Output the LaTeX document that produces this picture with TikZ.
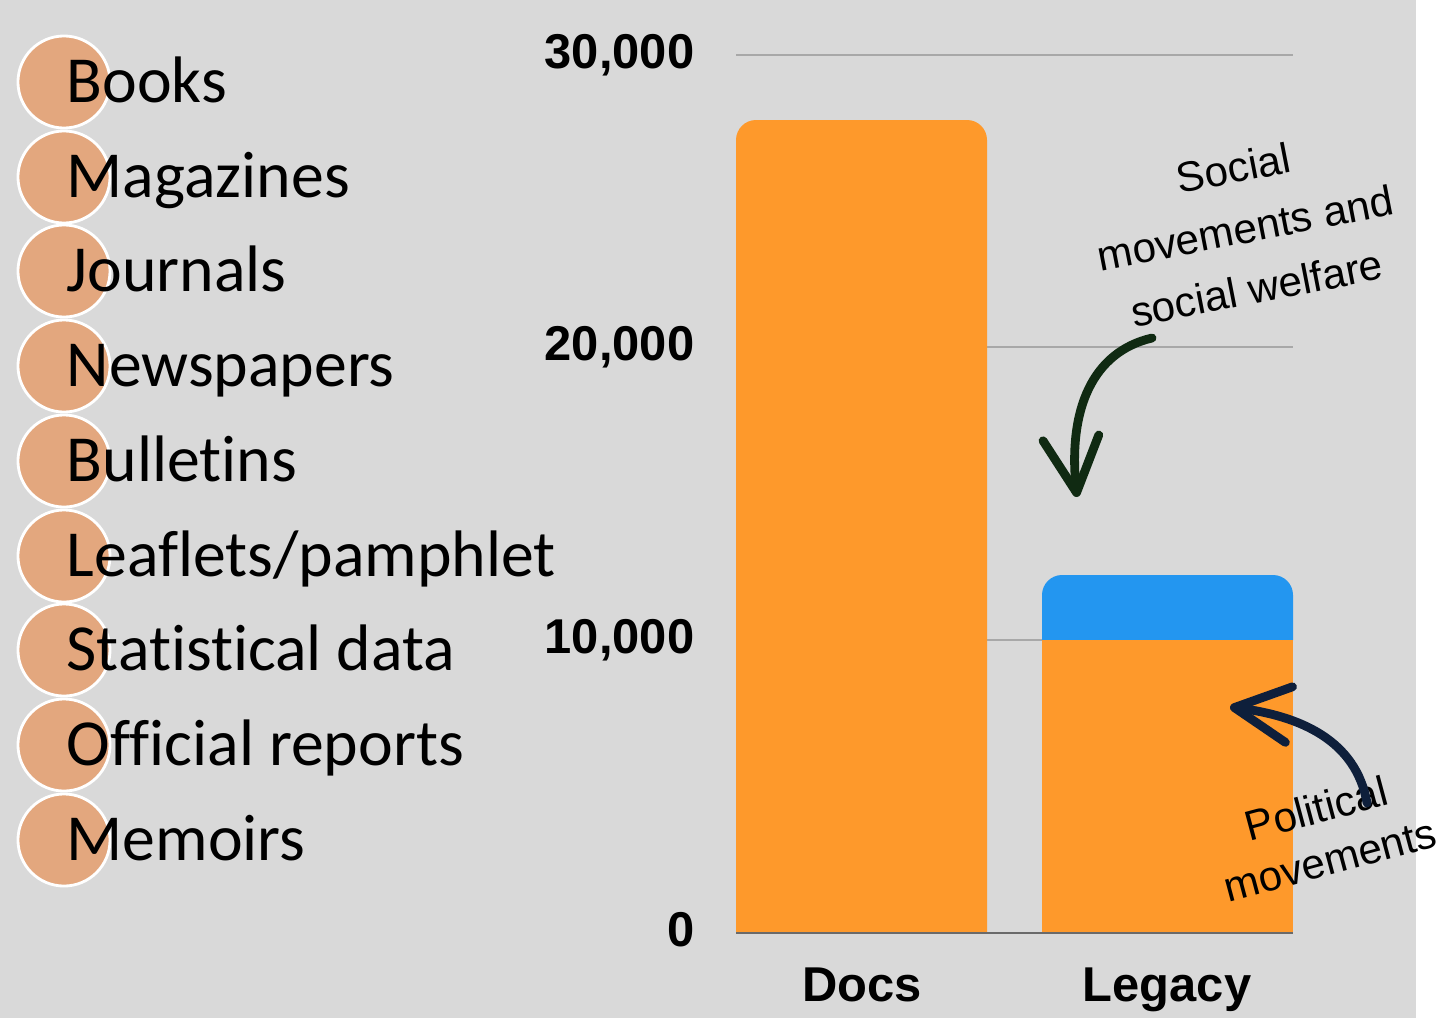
\documentclass[tikz,border=0pt]{standalone}
\usepackage{fontspec}
\setmainfont{Liberation Sans}
\newfontfamily\listfont[Ligatures=NoCommon]{Carlito}
\usetikzlibrary{arrows.meta}

\definecolor{bggray}{HTML}{D9D9D9}
\definecolor{bubblefill}{HTML}{E3A77E}
\definecolor{barorange}{HTML}{FE992B}
\definecolor{barblue}{HTML}{2396F0}
\definecolor{gridgray}{HTML}{A8A8A8}
\definecolor{axisgray}{HTML}{6A6A6A}
\definecolor{arrowgreen}{HTML}{102A12}
\definecolor{arrownavy}{HTML}{0E1F3B}

\begin{document}
\begin{tikzpicture}[x=0.01cm,y=-0.01cm,
  bubble/.style={circle,fill=bubblefill,draw=white,line width=0.8pt,minimum size=0.92cm,inner sep=0pt},
  item/.style={anchor=base west,inner sep=0pt,font=\listfont\fontsize{18.7}{22}\selectfont},
  ticklabel/.style={anchor=base east,inner sep=0pt,font=\bfseries\fontsize{13.9}{16}\selectfont},
  barlabel/.style={anchor=base,inner sep=0pt,font=\bfseries\fontsize{13.9}{16}\selectfont},
  note/.style={align=center,inner sep=0pt},
  pointer/.style={line width=2.5pt,line cap=round,-{Straight Barb[length=5.5mm,width=5.6mm,round]}}]
\useasboundingbox (0,0) rectangle (1437,1018);
\fill[white] (0,0) rectangle (1437,1018);
\fill[bggray] (0,0) rectangle (1416,1018);

% list of sources
\node[bubble] (b1) at (64,82) {};
\node[item] (t1) at (66,102) {Books};
\node[bubble] (b2) at (64,177) {};
\node[item] (t2) at (66,197) {Magazines};
\node[bubble] (b3) at (64,271) {};
\node[item] (t3) at (66,291) {Journals};
\node[bubble] (b4) at (64,366) {};
\node[item] (t4) at (66,386) {Newspapers};
\node[bubble] (b5) at (64,461) {};
\node[item] (t5) at (66,481) {Bulletins};
\node[bubble] (b6) at (64,556) {};
\node[item] (t6) at (66,576) {Leaflets/pamphlet};
\node[bubble] (b7) at (64,650) {};
\node[item] (t7) at (66,670) {Statistical data};
\node[bubble] (b8) at (64,745) {};
\node[item] (t8) at (66,765) {Official reports};
\node[bubble] (b9) at (64,840) {};
\node[item] (t9) at (66,860) {Memoirs};

% grid
\draw[gridgray,line width=0.3pt] (736,55) -- (1293,55);
\draw[gridgray,line width=0.3pt] (736,347) -- (1293,347);
\draw[gridgray,line width=0.3pt] (736,640) -- (1293,640);
\node[ticklabel] (y30) at (695,68) {30,000};
\node[ticklabel] (y20) at (695,360) {20,000};
\node[ticklabel] (y10) at (695,653) {10,000};
\node[ticklabel] (y0) at (695,946) {0};

% bars
\fill[barorange] (736,933) [rounded corners=0.2cm] -- (736,120) -- (987,120) [sharp corners] -- (987,933) -- cycle;
\fill[barblue] (1042,640) [rounded corners=0.2cm] -- (1042,575) -- (1293,575) [sharp corners] -- (1293,640) -- cycle;
\fill[barorange] (1042,640) rectangle (1293,933);
\draw[axisgray,line width=0.6pt] (736,933) -- (1293,933);
\node[barlabel] (docs) at (862,1001) {Docs};
\node[barlabel] (legacy) at (1167,1001) {Legacy};

% notes
\node[note,rotate=11,font=\fontsize{12}{17.4}\selectfont] (social) at (1245,228) {Social\\movements and\\social welfare};
\node[note,rotate=15,font=\fontsize{12}{15}\selectfont] (political) at (1323,834) {Political\\movements};
\coordinate (socialtail) at (1152,338);
\coordinate (socialtip) at (1077,497);
\coordinate (politicaltail) at (1367,803);
\coordinate (politicaltip) at (1230,707);
\draw[pointer,arrowgreen] (socialtail) .. controls (1092,352) and (1068,410) .. (socialtip);
\draw[pointer,arrownavy] (politicaltail) .. controls (1356,740) and (1300,716) .. (politicaltip);
\end{tikzpicture}
\end{document}
